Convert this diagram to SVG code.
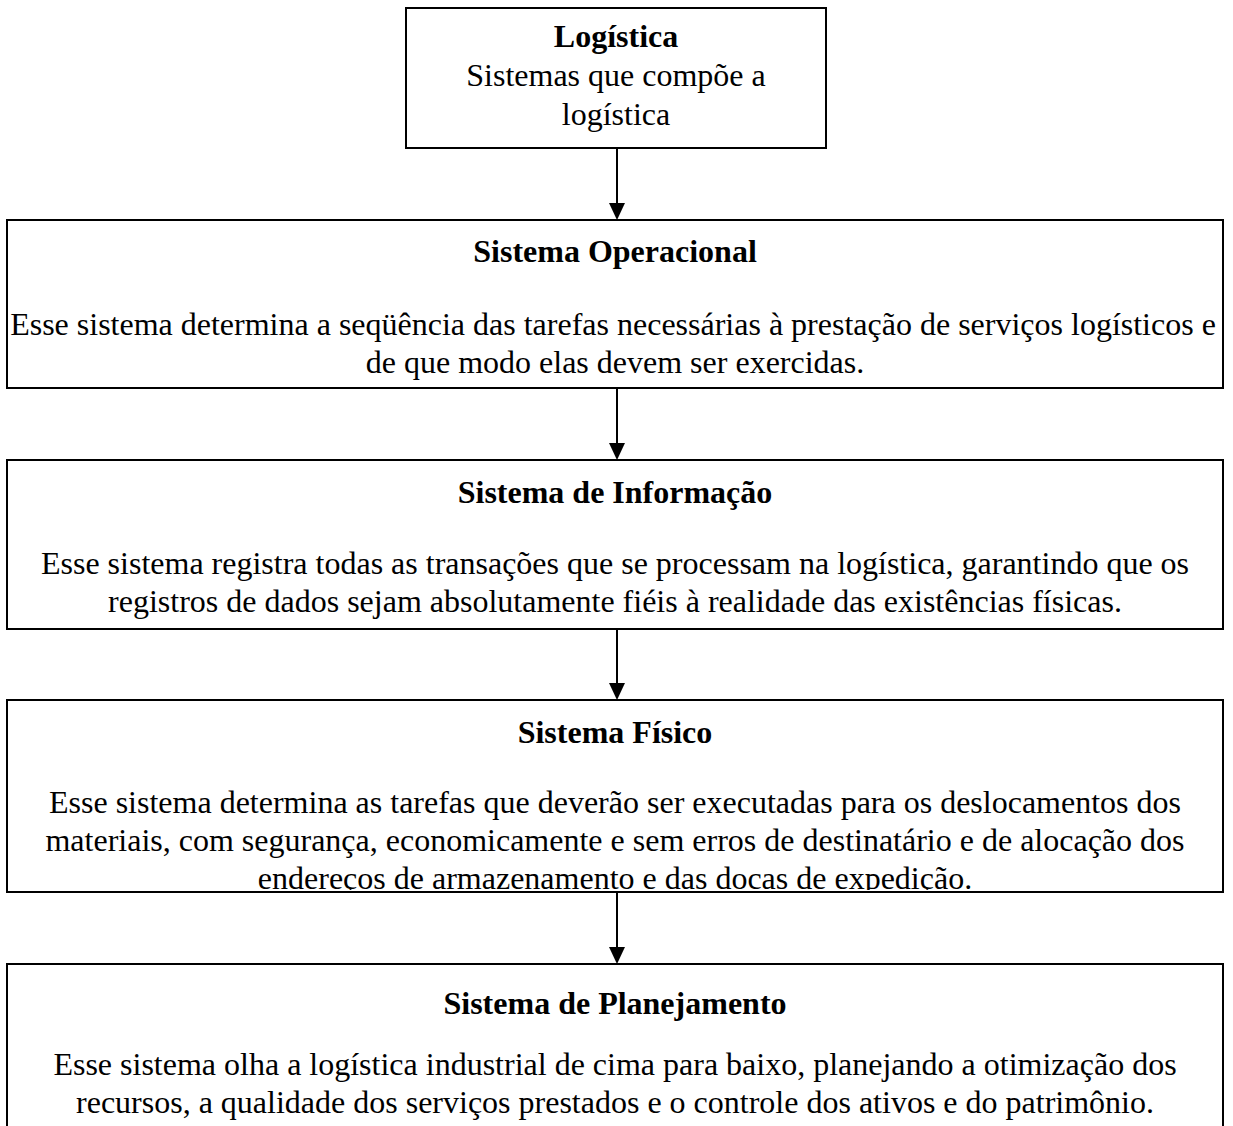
<svg xmlns="http://www.w3.org/2000/svg" width="1233" height="1126" viewBox="0 0 1233 1126">
  <defs>
    <style>
      .box { fill: #ffffff; stroke: #000000; stroke-width: 2; }
      .t { font-family: "Liberation Serif", "Times New Roman", serif; font-size: 32px; fill: #000000; text-anchor: middle; }
      .b { font-weight: bold; }
      #connectors line { stroke: #000000; stroke-width: 2; }
      #connectors polygon { fill: #000000; stroke: none; }
    </style>
    <clipPath id="clipFisico">
      <rect x="7" y="700" width="1216" height="190"/>
    </clipPath>
  </defs>

  <rect width="1233" height="1126" fill="#ffffff"/>

  <!-- connectors: vertical shafts with filled arrowheads -->
  <g id="connectors">
    <line x1="617" y1="148" x2="617" y2="205"/>
    <polygon points="609,203 625,203 617,220"/>
    <line x1="617" y1="388" x2="617" y2="445"/>
    <polygon points="609,443 625,443 617,460"/>
    <line x1="617" y1="629" x2="617" y2="685"/>
    <polygon points="609,683 625,683 617,700"/>
    <line x1="617" y1="892" x2="617" y2="949"/>
    <polygon points="609,947 625,947 617,964"/>
  </g>

  <g id="logistica">
    <rect class="box" x="406" y="8" width="420" height="140"/>
    <text class="t b" x="616" y="47">Logística</text>
    <text class="t" x="616" y="86">Sistemas que compõe a</text>
    <text class="t" x="616" y="125">logística</text>
  </g>

  <g id="operacional">
    <rect class="box" x="7" y="220" width="1216" height="168"/>
    <text class="t b" x="615" y="262">Sistema Operacional</text>
    <text class="t" x="613" y="335">Esse sistema determina a seqüência das tarefas necessárias à prestação de serviços logísticos e</text>
    <text class="t" x="615" y="373">de que modo elas devem ser exercidas.</text>
  </g>

  <g id="informacao">
    <rect class="box" x="7" y="460" width="1216" height="169"/>
    <text class="t b" x="615" y="503">Sistema de Informação</text>
    <text class="t" x="615" y="574">Esse sistema registra todas as transações que se processam na logística, garantindo que os</text>
    <text class="t" x="615" y="612">registros de dados sejam absolutamente fiéis à realidade das existências físicas.</text>
  </g>

  <g id="fisico">
    <rect class="box" x="7" y="700" width="1216" height="192"/>
    <text class="t b" x="615" y="743">Sistema Físico</text>
    <g clip-path="url(#clipFisico)">
      <text class="t" x="615" y="813">Esse sistema determina as tarefas que deverão ser executadas para os deslocamentos dos</text>
      <text class="t" x="615" y="851">materiais, com segurança, economicamente e sem erros de destinatário e de alocação dos</text>
      <text class="t" x="615" y="889">endereços de armazenamento e das docas de expedição.</text>
    </g>
    <line x1="7" y1="892" x2="1223" y2="892" stroke="#000000" stroke-width="2"/>
  </g>

  <g id="planejamento">
    <rect class="box" x="7" y="964" width="1216" height="200"/>
    <text class="t b" x="615" y="1014">Sistema de Planejamento</text>
    <text class="t" x="615" y="1075">Esse sistema olha a logística industrial de cima para baixo, planejando a otimização dos</text>
    <text class="t" x="615" y="1113">recursos, a qualidade dos serviços prestados e o controle dos ativos e do patrimônio.</text>
  </g>
</svg>
